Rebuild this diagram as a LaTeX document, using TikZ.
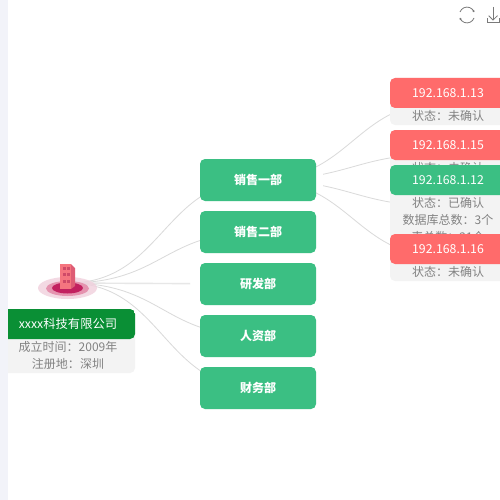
\documentclass[tikz,border=0pt]{standalone}
\usepackage{fontspec}
\setmainfont{Noto Sans CJK SC}
\usetikzlibrary{positioning, backgrounds}
\definecolor{deptgreen}{HTML}{3BBF83}
\definecolor{compgreen}{HTML}{0A8F35}
\definecolor{alertred}{HTML}{FF6B6B}
\definecolor{cardgrey}{HTML}{F3F3F3}
\definecolor{bodytext}{HTML}{828282}
\definecolor{linegrey}{HTML}{DADADA}
\definecolor{bandgrey}{HTML}{F2F3F9}
\definecolor{iconline}{HTML}{7A7A7A}
\definecolor{halo}{HTML}{F1D0DD}
\definecolor{halomid}{HTML}{E593AF}
\definecolor{haloin}{HTML}{C2205F}
\definecolor{tower}{HTML}{F5757F}
\definecolor{towerside}{HTML}{DE5C74}
\definecolor{towerwin}{HTML}{CF4A68}

\begin{document}
\begin{tikzpicture}[
    x=1pt, y=-1pt,
    every node/.style={font=\fontsize{12}{17}\selectfont, outer sep=0pt},
    node distance = 10pt and 12pt,
    dept/.style ={fill=deptgreen, rounded corners=5pt, text=white, inner sep=0pt,
                  minimum width=116pt, minimum height=42pt, font=\fontsize{12}{17}\selectfont\bfseries},
    card/.style n args={3}{rounded corners=5pt, fill=cardgrey, inner sep=0pt,
                  minimum width=#1, minimum height=#2,
                  path picture={\fill[#3] (path picture bounding box.north west)
                      rectangle ([yshift=-30pt]path picture bounding box.north east);}},
    title/.style={text=white, inner sep=0pt, font=\fontsize{12.3}{17}\selectfont},
    info/.style ={text=bodytext, align=center, inner sep=0pt, anchor=north},
    link/.style ={linegrey, line width=0.8pt},
]
\useasboundingbox (0,0) rectangle (500,500);
\clip (0,0) rectangle (500,500);
\coordinate (root) at (68,283);
\node[dept] (dept1) at (258,180) {销售一部};
\node[dept, below=of dept1] (dept2) {销售二部};
\node[dept, below=of dept2] (dept3) {研发部};
\node[dept, below=of dept3] (dept4) {人资部};
\node[dept, below=of dept4] (dept5) {财务部};
% company
\fill[halo, opacity=.8] (67.5,288) ellipse (29.5 and 11);
\fill[halomid] (67.5,288.5) ellipse (21.5 and 7.5);
\fill[haloin] (67.5,288) ellipse (15.5 and 5.5);
\fill[towerside] (71,264) -- (75,268) -- (75,286) -- (71,289) -- cycle;
\fill[tower] (60,264) rectangle (71,289);
\foreach \wy in {267,273,280}
  \foreach \wx in {63,67}
    \fill[towerwin] (\wx,\wy) rectangle +(3,3);
\node[card={134pt}{64pt}{compgreen}] (company) at (68,341) {};
\node[title] (companyname) at (68,323.5) {xxxx科技有限公司};
\node[info] (companyinfo) at (68,341.5) {成立时间：2009年\\注册地：深圳};
% hosts
\node[card={116pt}{47pt}{alertred}] (ip13) at (448,101.5) {};
\node[title] at (448,93.5) (ip13t) {192.168.1.13};
\node[info] at (448,110.5) (ip13i) {状态：未确认};
\node[card={116pt}{47pt}{alertred}] (ip15) at (448,153.5) {};
\node[title] at (448,145.5) (ip15t) {192.168.1.15};
\node[info] at (448,162.5) (ip15i) {状态：未确认};
\node[card={116pt}{83pt}{deptgreen}] (ip12) at (448,206.5) {};
\node[title] at (448,180.5) (ip12t) {192.168.1.12};
\node[info] at (448,197.5) (ip12i) {状态：已确认\\数据库总数：3个\\表总数：21个};
\node[card={116pt}{47pt}{alertred}] (ip16) at (448,257.5) {};
\node[title] at (448,249.5) (ip16t) {192.168.1.16};
\node[info] at (448,266.5) (ip16i) {状态：未确认};
% links stay behind everything else
\begin{pgfonlayer}{background}
\fill[white] (0,0) rectangle (500,500);
\draw[link] (root) .. controls (163,283) and (163,180) .. (dept1.center);
\draw[link] (root) .. controls (163,283) and (163,232) .. (dept2.center);
\begin{scope}
\clip (60,270) rectangle (190,300);
\draw[link, line width=1.4pt, color=linegrey!65] (root) -- (dept3.center);
\end{scope}
\draw[link] (root) .. controls (163,283) and (163,336) .. (dept4.center);
\draw[link] (root) .. controls (163,283) and (163,388) .. (dept5.center);
\draw[link] (dept1.center) .. controls (353,180) and (353,101.5) .. (ip13.center);
\draw[link] (dept1.center) .. controls (353,180) and (353,257.5) .. (ip16.center);
\begin{scope}
\clip (323,100) rectangle (392,230);
\draw[link] (dept1.center) .. controls (353,180) and (353,153.5) .. (ip15.center);
\draw[link] (dept1.center) .. controls (353,180) and (353,206.5) .. (ip12.center);
\end{scope}
\end{pgfonlayer}
% side band and toolbar
\fill[bandgrey] (0,0) rectangle (8,500);
\draw[iconline, line width=0.8pt] (460,12) arc (200:340:7.5);
\draw[iconline, line width=0.8pt] (474,18) arc (20:160:7.5);
\fill[iconline] (473.5,11) circle (1.1) (460.5,19) circle (1.1);
\draw[iconline, line width=0.8pt] (493,7) -- (493,20);
\draw[iconline, line width=0.8pt] (488.7,15.7) -- (493,20) -- (497.5,15.7);
\draw[iconline, line width=0.8pt] (487,18.5) -- (487,22.5) -- (499.5,22.5) -- (499.5,18.5);
\end{tikzpicture}
\end{document}
